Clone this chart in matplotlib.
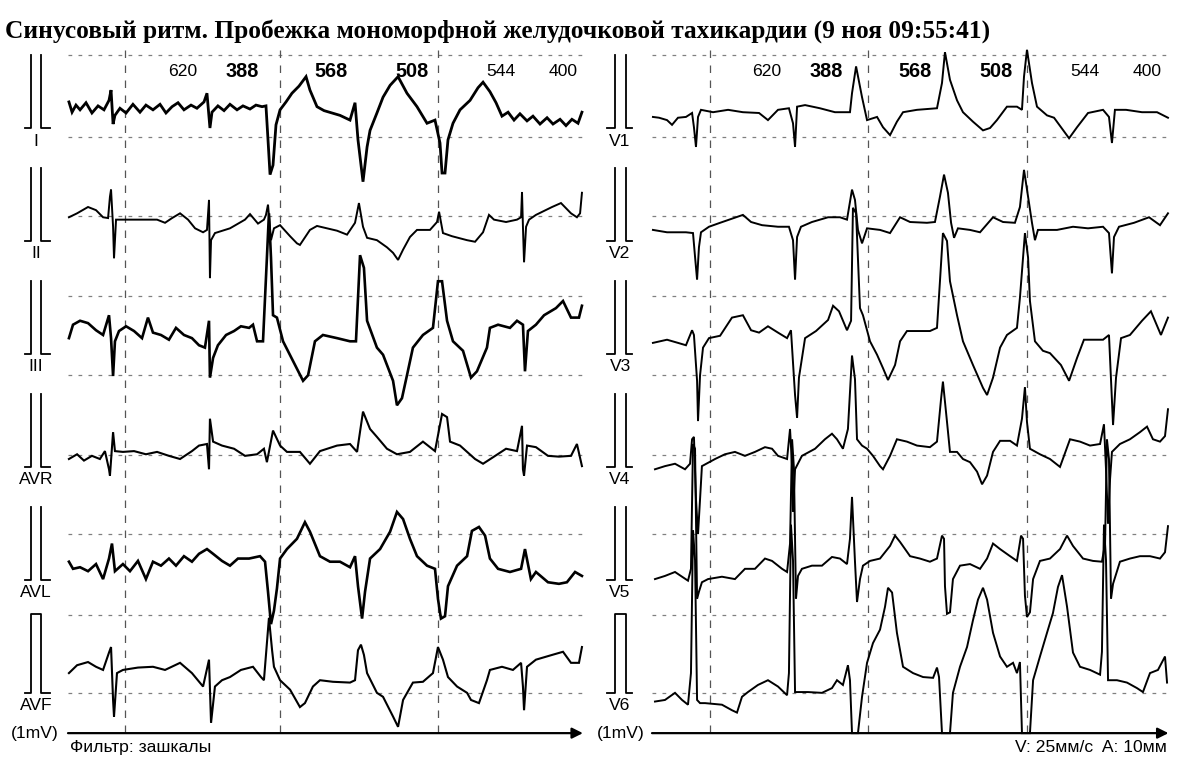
import numpy as np
import matplotlib
matplotlib.use("Agg")
import matplotlib.pyplot as plt
from matplotlib import font_manager

LEAD_I = [(0.006,0.33),(0.026,0.20),(0.051,0.29),(0.077,0.23),(0.115,0.32),(0.153,0.19),(0.192,0.28),(0.230,0.23),(0.262,0.35),(0.275,0.48),(0.288,0.05),(0.300,0.16),(0.332,0.25),(0.371,0.19),(0.415,0.30),(0.460,0.20),(0.498,0.29),(0.543,0.23),(0.588,0.30),(0.626,0.19),(0.665,0.27),(0.703,0.32),(0.741,0.23),(0.786,0.29),(0.824,0.25),(0.869,0.33),(0.888,0.44),(0.907,0.00),(0.920,0.20),(0.958,0.28),(0.997,0.22),(1.035,0.30),(1.080,0.23),(1.118,0.28),(1.163,0.24),(1.201,0.29),(1.240,0.27),(1.265,0.28),(1.278,-0.15),(1.291,-0.59),(1.310,-0.47),(1.329,0.04),(1.355,0.23),(1.393,0.33),(1.431,0.44),(1.476,0.53),(1.521,0.65),(1.546,0.48),(1.591,0.27),(1.636,0.22),(1.687,0.19),(1.738,0.16),(1.802,0.10),(1.834,0.32),(1.853,-0.15),(1.885,-0.68),(1.911,-0.24),(1.930,-0.03),(1.974,0.19),(2.013,0.39),(2.058,0.54),(2.109,0.65),(2.166,0.44),(2.230,0.27),(2.294,0.06),(2.345,0.10),(2.377,-0.19),(2.390,-0.57),(2.409,-0.57),(2.428,-0.15),(2.460,0.06),(2.505,0.23),(2.569,0.35),(2.620,0.51),(2.652,0.58),(2.696,0.46),(2.735,0.32),(2.773,0.15),(2.812,0.20),(2.850,0.10),(2.888,0.18),(2.933,0.09),(2.971,0.15),(3.016,0.05),(3.061,0.13),(3.099,0.05),(3.144,0.11),(3.182,0.03),(3.220,0.11),(3.259,0.06),(3.284,0.20)]
LEAD_II = [(0.006,0.30),(0.058,0.35),(0.128,0.43),(0.179,0.39),(0.224,0.30),(0.256,0.29),(0.268,0.56),(0.275,0.65),(0.288,0.18),(0.294,-0.22),(0.307,0.27),(0.326,0.27),(0.396,0.27),(0.498,0.27),(0.569,0.27),(0.620,0.23),(0.665,0.29),(0.716,0.35),(0.767,0.27),(0.812,0.16),(0.863,0.11),(0.888,0.14),(0.901,0.52),(0.907,-0.47),(0.914,0.01),(0.939,0.10),(1.035,0.16),(1.131,0.27),(1.163,0.34),(1.214,0.22),(1.252,0.27),(1.265,0.33),(1.278,0.46),(1.297,0.01),(1.316,0.16),(1.355,0.20),(1.419,0.06),(1.463,-0.03),(1.482,-0.05),(1.546,0.14),(1.591,0.19),(1.719,0.13),(1.783,0.08),(1.834,0.23),(1.859,0.48),(1.885,0.18),(1.911,0.04),(1.974,0.01),(2.038,-0.08),(2.077,-0.15),(2.109,-0.24),(2.141,-0.11),(2.185,0.05),(2.230,0.14),(2.313,0.14),(2.358,0.24),(2.371,0.37),(2.396,0.10),(2.454,0.06),(2.550,0.01),(2.601,-0.01),(2.652,0.11),(2.690,0.33),(2.722,0.27),(2.799,0.24),(2.869,0.27),(2.895,0.30),(2.901,0.62),(2.907,0.18),(2.914,-0.27),(2.927,0.18),(2.946,0.27),(2.990,0.33),(3.093,0.43),(3.150,0.48),(3.214,0.35),(3.252,0.30),(3.272,0.35),(3.284,0.61)]
LEAD_III = [(0.006,0.20),(0.032,0.37),(0.077,0.42),(0.128,0.39),(0.179,0.30),(0.224,0.24),(0.262,0.49),(0.275,0.20),(0.288,-0.28),(0.300,0.16),(0.326,0.29),(0.371,0.35),(0.422,0.29),(0.473,0.20),(0.511,0.46),(0.543,0.27),(0.594,0.24),(0.645,0.18),(0.690,0.33),(0.741,0.24),(0.792,0.20),(0.837,0.11),(0.875,0.08),(0.901,0.42),(0.907,-0.30),(0.927,-0.05),(0.958,0.11),(1.010,0.24),(1.061,0.29),(1.105,0.35),(1.157,0.33),(1.182,0.37),(1.208,0.16),(1.246,0.16),(1.271,1.22),(1.284,1.78),(1.297,1.22),(1.310,0.49),(1.335,0.46),(1.374,0.16),(1.438,-0.09),(1.502,-0.34),(1.534,-0.27),(1.578,0.16),(1.629,0.24),(1.719,0.20),(1.802,0.16),(1.840,0.16),(1.866,1.25),(1.891,1.09),(1.911,0.42),(1.974,0.08),(2.013,-0.01),(2.077,-0.34),(2.102,-0.65),(2.134,-0.56),(2.166,-0.27),(2.204,0.08),(2.268,0.24),(2.332,0.33),(2.364,0.92),(2.390,0.92),(2.422,0.42),(2.460,0.16),(2.524,0.04),(2.575,-0.30),(2.613,-0.22),(2.677,0.08),(2.696,0.33),(2.748,0.37),(2.824,0.33),(2.869,0.42),(2.907,0.37),(2.920,-0.22),(2.939,0.29),(2.990,0.37),(3.042,0.49),(3.118,0.58),(3.163,0.67),(3.214,0.46),(3.265,0.46),(3.284,0.61)]
LEAD_AVR = [(0.006,0.10),(0.058,0.16),(0.102,0.08),(0.153,0.14),(0.204,0.10),(0.236,0.20),(0.262,-0.03),(0.268,-0.11),(0.288,0.44),(0.300,0.20),(0.351,0.19),(0.422,0.20),(0.498,0.16),(0.569,0.19),(0.645,0.14),(0.716,0.10),(0.792,0.20),(0.837,0.27),(0.888,0.29),(0.901,-0.03),(0.907,0.61),(0.927,0.32),(0.984,0.27),(1.061,0.23),(1.131,0.14),(1.208,0.16),(1.252,0.23),(1.271,0.06),(1.310,0.46),(1.355,0.27),(1.399,0.19),(1.482,0.19),(1.546,0.04),(1.610,0.20),(1.719,0.27),(1.802,0.29),(1.847,0.19),(1.885,0.70),(1.930,0.48),(1.974,0.38),(2.038,0.23),(2.102,0.16),(2.185,0.19),(2.268,0.32),(2.345,0.20),(2.390,0.67),(2.422,0.63),(2.441,0.32),(2.505,0.27),(2.601,0.10),(2.652,0.04),(2.722,0.13),(2.799,0.23),(2.869,0.20),(2.901,0.52),(2.907,-0.03),(2.914,-0.11),(2.933,0.27),(2.990,0.25),(3.067,0.14),(3.137,0.13),(3.214,0.14),(3.252,0.29),(3.284,0.01)]
LEAD_AVL = [(0.006,0.23),(0.032,0.14),(0.077,0.16),(0.128,0.11),(0.179,0.20),(0.224,0.01),(0.262,0.27),(0.281,0.46),(0.300,0.11),(0.351,0.20),(0.396,0.11),(0.447,0.24),(0.498,0.01),(0.543,0.23),(0.594,0.18),(0.645,0.27),(0.690,0.18),(0.741,0.30),(0.792,0.23),(0.837,0.33),(0.888,0.39),(0.927,0.33),(0.984,0.24),(1.035,0.18),(1.086,0.27),(1.157,0.27),(1.227,0.30),(1.259,0.23),(1.278,-0.15),(1.297,-0.56),(1.316,-0.39),(1.335,-0.11),(1.355,0.27),(1.399,0.39),(1.463,0.52),(1.514,0.73),(1.546,0.61),(1.610,0.30),(1.674,0.23),(1.738,0.23),(1.802,0.16),(1.834,0.30),(1.853,-0.08),(1.879,-0.49),(1.898,-0.15),(1.930,0.27),(1.994,0.39),(2.058,0.61),(2.102,0.86),(2.141,0.77),(2.185,0.52),(2.230,0.30),(2.294,0.18),(2.345,0.14),(2.364,-0.24),(2.383,-0.49),(2.409,-0.46),(2.428,-0.08),(2.486,0.18),(2.550,0.30),(2.581,0.62),(2.626,0.67),(2.665,0.56),(2.696,0.27),(2.748,0.14),(2.824,0.10),(2.895,0.14),(2.920,0.39),(2.958,0.01),(2.990,0.10),(3.067,-0.03),(3.137,-0.05),(3.188,-0.03),(3.240,0.10),(3.284,0.05)]
LEAD_AVF = [(0.006,0.25),(0.058,0.35),(0.128,0.39),(0.179,0.33),(0.224,0.29),(0.262,0.51),(0.275,0.58),(0.288,-0.09),(0.294,-0.30),(0.313,0.25),(0.351,0.29),(0.447,0.32),(0.543,0.33),(0.620,0.29),(0.716,0.38),(0.792,0.25),(0.863,0.08),(0.901,0.42),(0.914,-0.38),(0.939,0.08),(0.984,0.16),(1.035,0.20),(1.105,0.29),(1.182,0.33),(1.233,0.20),(1.252,0.16),(1.271,0.63),(1.284,0.95),(1.304,0.54),(1.316,0.33),(1.355,0.16),(1.419,0.04),(1.482,-0.18),(1.514,-0.13),(1.565,0.08),(1.610,0.16),(1.693,0.14),(1.802,0.13),(1.834,0.16),(1.853,0.54),(1.872,0.61),(1.891,0.48),(1.911,0.25),(1.974,0.00),(2.013,-0.05),(2.077,-0.30),(2.109,-0.43),(2.141,-0.09),(2.204,0.13),(2.268,0.14),(2.332,0.25),(2.364,0.58),(2.396,0.42),(2.428,0.20),(2.486,0.08),(2.550,0.00),(2.575,-0.09),(2.626,-0.13),(2.677,0.16),(2.696,0.29),(2.773,0.33),(2.843,0.29),(2.895,0.38),(2.907,0.08),(2.914,-0.22),(2.933,0.33),(2.990,0.42),(3.093,0.48),(3.163,0.52),(3.214,0.38),(3.265,0.38),(3.284,0.58)]

LEAD_V1 = [(0.006,0.14),(0.045,0.13),(0.096,0.10),(0.128,0.04),(0.166,0.13),(0.217,0.14),(0.256,0.19),(0.268,0.01),(0.281,-0.24),(0.294,0.14),(0.313,0.23),(0.390,0.20),(0.486,0.23),(0.581,0.20),(0.684,0.19),(0.741,0.10),(0.805,0.23),(0.875,0.25),(0.901,0.06),(0.914,-0.24),(0.927,0.27),(0.978,0.29),(1.073,0.25),(1.169,0.20),(1.265,0.20),(1.278,0.44),(1.304,0.78),(1.342,0.39),(1.374,0.10),(1.438,0.14),(1.476,0.01),(1.521,-0.09),(1.565,0.08),(1.604,0.20),(1.693,0.23),(1.821,0.25),(1.853,0.57),(1.872,0.96),(1.904,0.61),(1.949,0.35),(1.987,0.20),(2.051,0.08),(2.115,-0.03),(2.160,0.00),(2.204,0.10),(2.268,0.27),(2.332,0.27),(2.364,0.23),(2.377,0.65),(2.396,0.99),(2.428,0.57),(2.460,0.27),(2.524,0.16),(2.569,0.13),(2.665,-0.13),(2.716,0.01),(2.786,0.19),(2.882,0.23),(2.920,0.14),(2.939,-0.19),(2.958,0.23),(3.029,0.23),(3.131,0.20),(3.227,0.20),(3.297,0.13)]
LEAD_V2 = [(0.006,0.14),(0.096,0.11),(0.217,0.11),(0.262,0.10),(0.275,-0.20),(0.288,-0.49),(0.300,-0.08),(0.313,0.11),(0.364,0.18),(0.435,0.23),(0.537,0.30),(0.581,0.33),(0.633,0.24),(0.703,0.20),(0.805,0.18),(0.875,0.18),(0.901,0.01),(0.914,-0.49),(0.927,0.05),(0.952,0.18),(1.022,0.24),(1.125,0.30),(1.201,0.30),(1.246,0.27),(1.278,0.65),(1.297,0.52),(1.316,0.14),(1.342,-0.03),(1.374,0.16),(1.457,0.14),(1.521,0.10),(1.585,0.30),(1.649,0.24),(1.757,0.23),(1.808,0.24),(1.840,0.56),(1.866,0.84),(1.891,0.61),(1.911,0.23),(1.930,0.04),(1.955,0.16),(2.032,0.14),(2.096,0.11),(2.179,0.30),(2.243,0.24),(2.319,0.23),(2.351,0.43),(2.377,0.90),(2.403,0.56),(2.428,0.23),(2.447,0.01),(2.466,0.14),(2.524,0.14),(2.588,0.14),(2.690,0.18),(2.786,0.16),(2.882,0.18),(2.920,0.10),(2.939,-0.41),(2.952,0.05),(2.984,0.18),(3.080,0.23),(3.176,0.30),(3.246,0.20),(3.297,0.35)]
LEAD_V3 = [(0.006,0.14),(0.096,0.18),(0.166,0.14),(0.217,0.11),(0.256,0.30),(0.268,0.24),(0.288,-0.34),(0.294,-0.85),(0.307,-0.27),(0.326,0.08),(0.364,0.20),(0.435,0.23),(0.511,0.46),(0.581,0.49),(0.633,0.30),(0.684,0.27),(0.741,0.35),(0.805,0.27),(0.863,0.20),(0.888,0.30),(0.914,-0.52),(0.927,-0.81),(0.939,-0.30),(0.978,0.20),(1.048,0.29),(1.125,0.43),(1.157,0.61),(1.195,0.54),(1.246,0.30),(1.272,0.42),(1.284,1.85),(1.304,1.78),(1.329,0.58),(1.348,0.49),(1.393,0.16),(1.438,-0.01),(1.476,-0.18),(1.508,-0.33),(1.553,-0.14),(1.585,0.16),(1.629,0.29),(1.693,0.29),(1.776,0.29),(1.821,0.33),(1.840,0.92),(1.859,1.53),(1.885,1.43),(1.904,0.92),(1.949,0.49),(1.987,0.16),(2.051,-0.14),(2.115,-0.43),(2.141,-0.52),(2.179,-0.30),(2.224,0.08),(2.268,0.24),(2.332,0.33),(2.351,0.71),(2.383,1.53),(2.403,1.22),(2.415,0.67),(2.447,0.16),(2.498,0.04),(2.543,0.01),(2.613,-0.14),(2.665,-0.34),(2.716,-0.05),(2.760,0.18),(2.882,0.18),(2.920,0.24),(2.939,-0.59),(2.946,-0.90),(2.965,-0.30),(2.997,0.20),(3.054,0.24),(3.131,0.42),(3.188,0.54),(3.252,0.24),(3.297,0.46)]
LEAD_V4 = [(0.019,-0.03),(0.083,0.01),(0.147,0.04),(0.211,-0.03),(0.243,0.04),(0.256,0.35),(0.268,0.38),(0.281,-0.41),(0.294,-0.85),(0.307,-0.41),(0.319,0.01),(0.403,0.10),(0.466,0.16),(0.530,0.19),(0.594,0.14),(0.658,0.19),(0.722,0.25),(0.767,0.23),(0.805,0.14),(0.863,0.10),(0.882,0.48),(0.895,0.01),(0.901,-0.57),(0.914,-0.03),(0.958,0.14),(1.042,0.23),(1.105,0.35),(1.150,0.42),(1.182,0.35),(1.220,0.23),(1.252,0.48),(1.278,1.41),(1.297,1.11),(1.310,0.35),(1.342,0.27),(1.374,0.23),(1.412,0.14),(1.457,0.01),(1.476,-0.03),(1.521,0.14),(1.565,0.35),(1.629,0.32),(1.693,0.27),(1.776,0.25),(1.821,0.32),(1.847,0.86),(1.859,1.08),(1.885,0.57),(1.904,0.19),(1.949,0.19),(1.987,0.10),(2.032,0.06),(2.077,-0.06),(2.109,-0.22),(2.141,-0.11),(2.179,0.19),(2.224,0.33),(2.288,0.33),(2.332,0.27),(2.364,0.61),(2.383,1.01),(2.396,0.57),(2.415,0.23),(2.479,0.16),(2.543,0.10),(2.607,0.00),(2.671,0.35),(2.735,0.32),(2.799,0.27),(2.863,0.29),(2.888,0.54),(2.901,-0.03),(2.914,-0.72),(2.927,-0.15),(2.939,0.19),(2.990,0.29),(3.054,0.35),(3.118,0.44),(3.163,0.51),(3.201,0.35),(3.246,0.32),(3.278,0.39),(3.297,0.73)]
LEAD_V5 = [(0.019,0.01),(0.083,0.05),(0.147,0.10),(0.192,0.04),(0.230,-0.01),(0.249,0.14),(0.262,1.72),(0.275,1.66),(0.288,-0.24),(0.300,-0.15),(0.319,-0.03),(0.358,0.01),(0.447,0.04),(0.530,0.01),(0.594,0.14),(0.658,0.14),(0.722,0.27),(0.767,0.24),(0.831,0.14),(0.863,0.10),(0.882,0.46),(0.895,1.78),(0.907,1.41),(0.920,-0.24),(0.933,0.05),(0.958,0.14),(1.022,0.18),(1.086,0.18),(1.150,0.29),(1.201,0.27),(1.246,0.20),(1.265,0.52),(1.278,1.05),(1.297,0.23),(1.310,-0.28),(1.329,0.01),(1.348,0.18),(1.393,0.24),(1.457,0.27),(1.521,0.43),(1.553,0.56),(1.585,0.48),(1.649,0.30),(1.712,0.27),(1.776,0.23),(1.821,0.27),(1.853,0.56),(1.866,0.52),(1.872,-0.08),(1.885,-0.43),(1.904,-0.41),(1.923,0.01),(1.968,0.18),(2.032,0.20),(2.096,0.14),(2.141,0.27),(2.179,0.46),(2.224,0.39),(2.288,0.30),(2.332,0.24),(2.358,0.56),(2.371,0.52),(2.383,-0.20),(2.396,-0.47),(2.415,-0.41),(2.435,0.01),(2.479,0.24),(2.543,0.27),(2.607,0.39),(2.652,0.56),(2.690,0.43),(2.754,0.27),(2.818,0.24),(2.875,0.23),(2.895,0.46),(2.907,1.78),(2.920,1.53),(2.933,-0.24),(2.946,-0.05),(2.990,0.23),(3.054,0.27),(3.118,0.30),(3.182,0.30),(3.246,0.27),(3.278,0.35),(3.297,0.68)]
LEAD_V6 = [(0.019,-0.11),(0.083,-0.09),(0.147,0.00),(0.192,-0.09),(0.230,-0.15),(0.249,0.25),(0.262,2.06),(0.275,1.68),(0.288,-0.09),(0.307,-0.13),(0.339,-0.13),(0.447,-0.15),(0.511,-0.22),(0.543,-0.25),(0.575,-0.05),(0.613,0.01),(0.677,0.10),(0.741,0.16),(0.805,0.08),(0.863,-0.03),(0.875,0.25),(0.888,2.13),(0.901,1.68),(0.914,0.01),(0.997,0.01),(1.086,0.00),(1.150,0.06),(1.182,0.16),(1.220,0.10),(1.252,0.35),(1.265,0.16),(1.278,-0.51),(1.316,-0.51),(1.342,-0.05),(1.374,0.38),(1.412,0.63),(1.457,0.80),(1.489,1.09),(1.508,1.33),(1.534,1.27),(1.565,0.76),(1.604,0.33),(1.668,0.25),(1.732,0.20),(1.796,0.19),(1.821,0.32),(1.834,0.20),(1.853,-0.51),(1.904,-0.51),(1.923,0.00),(1.968,0.33),(2.013,0.58),(2.051,0.92),(2.083,1.18),(2.115,1.33),(2.141,1.18),(2.179,0.76),(2.224,0.46),(2.268,0.33),(2.307,0.38),(2.332,0.25),(2.351,0.39),(2.364,-0.51),(2.415,-0.51),(2.435,0.16),(2.479,0.46),(2.524,0.76),(2.562,1.01),(2.594,1.34),(2.620,1.49),(2.652,1.09),(2.690,0.51),(2.735,0.33),(2.799,0.29),(2.863,0.23),(2.875,0.52),(2.888,2.13),(2.901,1.68),(2.914,0.16),(2.971,0.16),(3.035,0.13),(3.099,0.06),(3.137,0.01),(3.182,0.25),(3.233,0.29),(3.278,0.46),(3.291,0.13)]

LEFT_NAMES = ["I", "II", "III", "AVR", "AVL", "AVF"]
RIGHT_NAMES = ["V1", "V2", "V3", "V4", "V5", "V6"]
RR_MS = ["620", "388", "568", "508", "544", "400"]
RR_BOLD = [False, True, True, True, False, False]
RR_T = [0.735, 1.115, 1.678, 2.195, 2.767, 3.163]
SECOND_MARKS_LEFT = [0.364, 1.355, 2.364]
SECOND_MARKS_RIGHT = [0.371, 1.380, 2.396]
GRID_MV = [0.92, -0.11, -1.11, -2.13, -3.13, -4.14, -5.14, -6.16, -7.15]

TITLE = "Синусовый ритм. Пробежка мономорфной желудочковой тахикардии (9 ноя 09:55:41)"

# ---- layout ----
W, H = 1183, 777
ROW_STEP = 1.43          # mV between lead rows
AXIS_MV = -7.66
TOP_MV = 0.99
PX_PER_S = 156.5
PX_PER_MV = 79.0
# noisy limb leads are drawn heavier so they read as dark as the original strip
LW_LEFT = [2.0, 1.4, 1.9, 1.5, 1.9, 1.5]
LW_RIGHT = [1.4, 1.4, 1.4, 1.4, 1.4, 1.4]

names = {f.name for f in font_manager.fontManager.ttflist}
if "Liberation Sans Narrow" in names:
    SANS, SC = "Liberation Sans Narrow", 1.0
else:
    SANS, SC = "Liberation Sans", 0.84

fig = plt.figure(figsize=(W / 100, H / 100), dpi=100)
fig.patch.set_facecolor("white")


def make_axes(px0, px1, t0_px):
    ax = fig.add_axes([px0 / W, 0, (px1 - px0) / W, 1])
    ax.set_xlim((px0 - t0_px) / PX_PER_S, (px1 - t0_px) / PX_PER_S)
    ax.set_ylim((128 - H) / PX_PER_MV, 128 / PX_PER_MV)
    ax.axis("off")
    return ax


def draw_panel(ax, leads, lead_names, widths, marks, t_end, pulse, label_t, mv_t):
    # dashed grid
    for g in GRID_MV:
        ax.plot([0, t_end], [g, g], color="#808080", lw=0.9, ls=(0, (3, 5)))
    for m in marks:
        ax.plot([m, m], [TOP_MV, AXIS_MV], color="#555555", lw=0.9, ls=(0, (6, 6)))
    # traces, pulses, labels
    p0, p1, p2, p3 = pulse
    for k, (pts, name, lw) in enumerate(zip(leads, lead_names, widths)):
        off = -k * ROW_STEP
        t, v = zip(*pts)
        ax.plot(t, np.array(v) + off, color="black", lw=lw, solid_joinstyle="miter")
        if k == len(leads) - 1:
            ax.plot([p0, p1, p1, p2, p2, p3], np.array([0, 0, 1, 1, 0, 0]) + off,
                    color="black", lw=1.3)
        else:
            ax.plot([p0, p1, p1], np.array([0, 0, 0.92]) + off, color="black", lw=1.3)
            ax.plot([p2, p2, p3], np.array([0.92, 0, 0]) + off, color="black", lw=1.3)
        ax.text(label_t, off - 0.07, name, ha="center", va="top",
                fontsize=15 * SC, family=SANS)
    ax.text(mv_t, AXIS_MV, "(1mV)", ha="center", va="center", fontsize=15 * SC, family=SANS)
    # RR intervals
    for lab, bold, tt in zip(RR_MS, RR_BOLD, RR_T):
        ax.text(tt, 0.71, lab, ha="center", va="center", family=SANS,
                fontsize=(17 if bold else 15) * SC, fontweight="bold" if bold else "normal")
    # time axis with arrow
    ax.annotate("", xy=(t_end, AXIS_MV), xytext=(0, AXIS_MV),
                arrowprops=dict(arrowstyle="-|>", color="black", lw=1.6,
                                mutation_scale=16, shrinkA=0, shrinkB=0))


axL = make_axes(0, 590, 68)
axR = make_axes(590, W, 652)

draw_panel(axL, [LEAD_I, LEAD_II, LEAD_III, LEAD_AVR, LEAD_AVL, LEAD_AVF], LEFT_NAMES, LW_LEFT,
           SECOND_MARKS_LEFT, 3.29, (-0.275, -0.236, -0.173, -0.115), -0.204, -0.211)
draw_panel(axR, [LEAD_V1, LEAD_V2, LEAD_V3, LEAD_V4, LEAD_V5, LEAD_V6], RIGHT_NAMES, LW_RIGHT,
           SECOND_MARKS_RIGHT, 3.30, (-0.288, -0.236, -0.166, -0.128), -0.204, -0.198)

axL.text(0.013, -7.84, "Фильтр: зашкалы", ha="left", va="center", fontsize=15 * SC, family=SANS)
axR.text(3.29, -7.84, "V: 25мм/с  A: 10мм", ha="right", va="center", fontsize=15 * SC, family=SANS)

fig.text(5 / W, 1 - 31 / H, TITLE, ha="left", va="center", family="Liberation Serif",
         fontweight="bold", fontsize=18.3)

fig.savefig("out.png", dpi=100, facecolor="white")
